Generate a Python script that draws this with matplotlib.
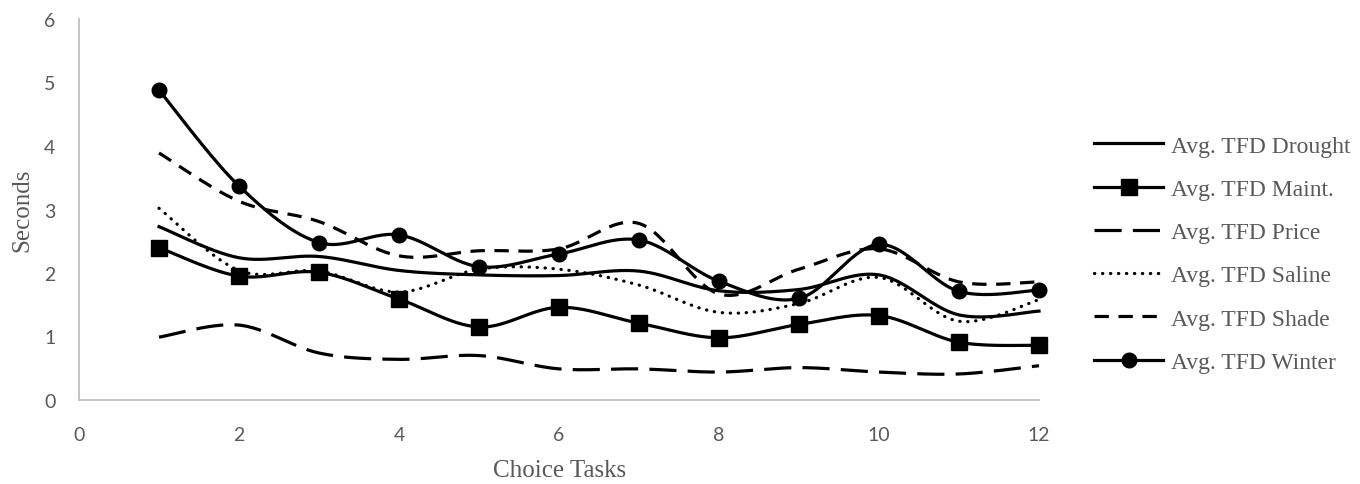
import numpy as np
import matplotlib
matplotlib.use('Agg')
import matplotlib.pyplot as plt

tasks = [1, 2, 3, 4, 5, 6, 7, 8, 9, 10, 11, 12]
drought = [2.73, 2.24, 2.26, 2.04, 1.97, 1.96, 2.03, 1.72, 1.74, 1.97, 1.34, 1.40]
maint = [2.40, 1.95, 2.01, 1.59, 1.15, 1.46, 1.21, 0.98, 1.19, 1.33, 0.91, 0.86]
price = [0.99, 1.18, 0.74, 0.64, 0.70, 0.49, 0.49, 0.44, 0.51, 0.44, 0.41, 0.54]
saline = [3.02, 2.04, 2.03, 1.70, 2.06, 2.06, 1.81, 1.38, 1.52, 1.93, 1.24, 1.58]
shade = [3.89, 3.13, 2.81, 2.27, 2.35, 2.38, 2.78, 1.67, 2.06, 2.38, 1.86, 1.86]
winter = [4.88, 3.37, 2.48, 2.60, 2.10, 2.30, 2.52, 1.87, 1.60, 2.45, 1.71, 1.73]

GRAY = '#595959'
SERIF = 'Liberation Serif'
plt.rcParams['font.family'] = SERIF


def smooth(x, y, n=30):
    # bezier smoothing like excel's "smoothed line"
    x = np.asarray(x, float)
    y = np.asarray(y, float)
    px = np.concatenate([[x[0]], x, [x[-1]]])
    py = np.concatenate([[y[0]], y, [y[-1]]])
    xs, ys = [], []
    t = np.linspace(0, 1, n)
    for i in range(1, len(px) - 2):
        p0, p1, p2, p3 = (np.array([px[j], py[j]]) for j in (i - 1, i, i + 1, i + 2))
        c1 = p1 + (p2 - p0) / 6
        c2 = p2 - (p3 - p1) / 6
        b = ((1 - t) ** 3)[:, None] * p1 + (3 * (1 - t) ** 2 * t)[:, None] * c1 \
            + (3 * (1 - t) * t ** 2)[:, None] * c2 + (t ** 3)[:, None] * p2
        xs.extend(b[:, 0])
        ys.extend(b[:, 1])
    return xs, ys


fig = plt.figure(figsize=(13.6, 4.85), dpi=100)
ax = fig.add_axes([79 / 1360, 1 - 401 / 485, 960 / 1360, 381 / 485])

lw = 2.3
series = [
    ('Avg. TFD Drought', drought, dict(linestyle='-'), None),
    ('Avg. TFD Maint.', maint, dict(linestyle='-'), 's'),
    ('Avg. TFD Price', price, dict(linestyle=(0, (8.5, 3.5))), None),
    ('Avg. TFD Saline', saline, dict(linestyle=(0, (0.1, 2.4)), dash_capstyle='round'), None),
    ('Avg. TFD Shade', shade, dict(linestyle=(0, (4.5, 3))), None),
    ('Avg. TFD Winter', winter, dict(linestyle='-'), 'o'),
]

handles = []
for name, vals, style, mk in series:
    ms = 11 if mk == 's' else 10.5
    sx, sy = smooth(tasks, vals)
    ax.plot(sx, sy, color='black', lw=lw, clip_on=False, **style)
    if mk:
        ax.plot(tasks, vals, linestyle='none', marker=mk, color='black',
                markersize=ms, clip_on=False)
    h, = ax.plot([], [], color='black', lw=lw, marker=mk, markersize=ms, **style)
    h.set_label(name)
    handles.append(h)

ax.set_xlim(0, 12)
ax.set_ylim(0, 6)
ax.set_xticks(range(0, 13, 2))
ax.set_yticks(range(0, 7))
for s in ['top', 'right']:
    ax.spines[s].set_visible(False)
for s in ['left', 'bottom']:
    ax.spines[s].set_color('#bfbfbf')
    ax.spines[s].set_linewidth(1.3)
ax.tick_params(axis='x', length=0, labelsize=14, labelcolor=GRAY, pad=19)
ax.tick_params(axis='y', length=0, labelsize=14, labelcolor=GRAY, pad=17)
for lab in ax.get_xticklabels() + ax.get_yticklabels():
    lab.set_fontfamily('Lato')

fig.text(22 / 1360, 1 - 210 / 485, 'Seconds', rotation=90, ha='center', va='center',
         fontsize=18, color=GRAY)
fig.text(560 / 1360, 1 - 471 / 485, 'Choice Tasks', ha='center', va='center',
         fontsize=18, color=GRAY)

leg = fig.legend(handles=handles, loc='center left', bbox_to_anchor=(1085 / 1360, 1 - 255 / 485),
                 frameon=False, fontsize=17, handlelength=2.9, labelspacing=0.92,
                 handletextpad=0.35, borderaxespad=0)
for t in leg.get_texts():
    t.set_color(GRAY)

fig.savefig('out.png', dpi=100)
